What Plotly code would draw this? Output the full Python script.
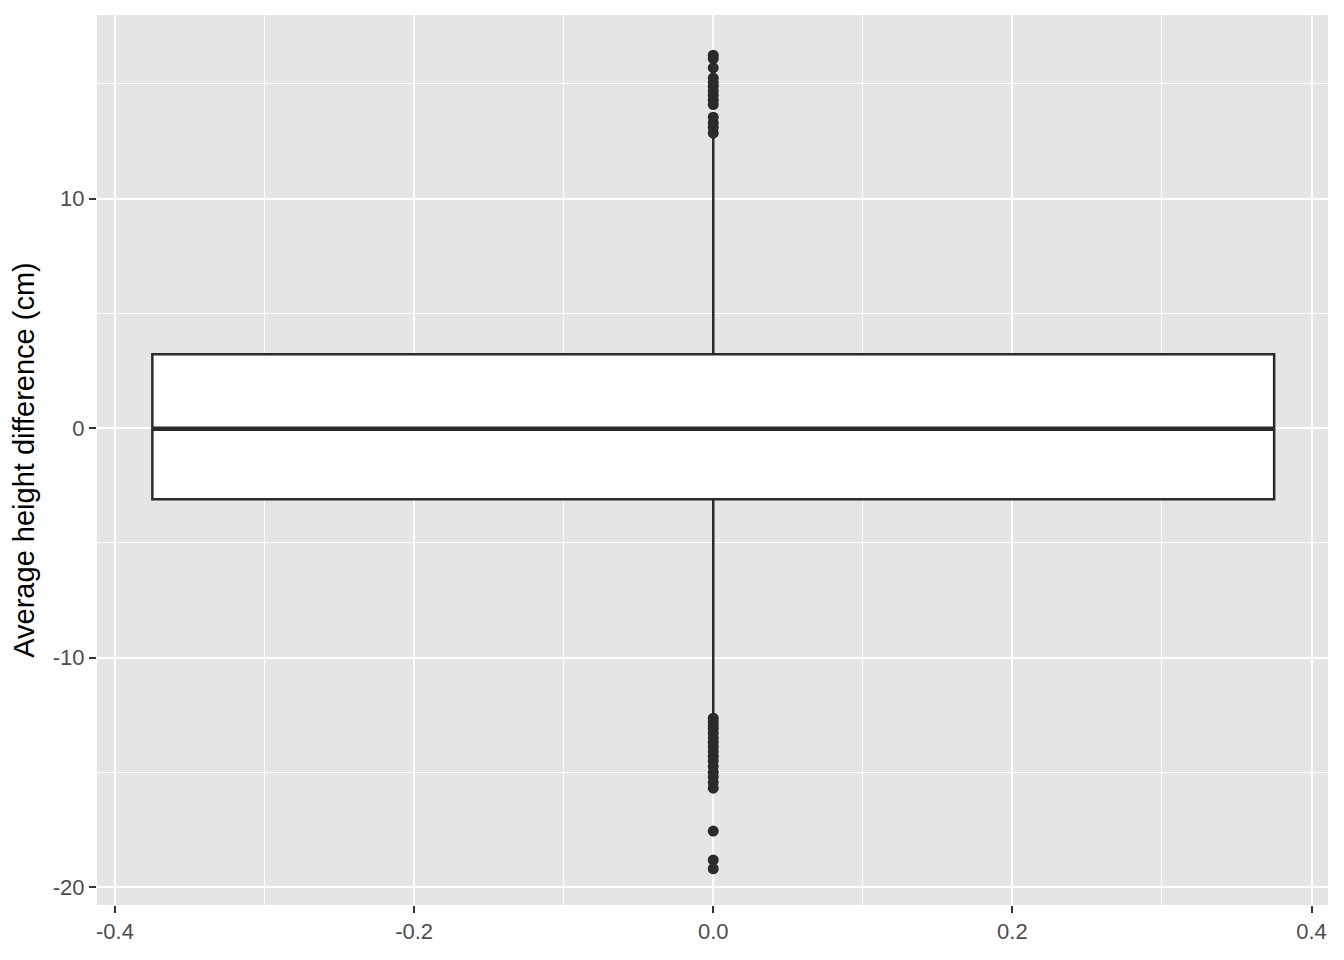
import plotly.graph_objects as go

# Summary statistics of the box (cm)
q1 = -3.1
median = -0.03
q3 = 3.22
lower_fence = -12.5
upper_fence = 12.7
box_width = 0.75

# Outliers (cm)
outliers_high = [16.25, 16.1, 15.7, 15.25, 15.05, 14.9, 14.7, 14.5, 14.3, 14.1,
                 13.55, 13.3, 13.1, 12.85]
outliers_low = [-12.64, -12.8, -12.95, -13.1, -13.3, -13.5, -13.7, -13.9, -14.1,
                -14.3, -14.5, -14.75, -15.0, -15.2, -15.45, -15.69,
                -17.56, -18.82, -19.2]

x_ticks = [-0.4, -0.2, 0.0, 0.2, 0.4]
x_tick_labels = ["-0.4", "-0.2", "0.0", "0.2", "0.4"]
y_ticks = [-20, -10, 0, 10]
y_tick_labels = ["-20", "-10", "0", "10"]

dark = "#2b2b2b"

fig = go.Figure()
fig.add_trace(go.Box(
    x=[0], q1=[q1], median=[median], q3=[q3],
    lowerfence=[lower_fence], upperfence=[upper_fence],
    width=box_width, fillcolor="white",
    line=dict(color=dark, width=2.5), whiskerwidth=0,
    boxpoints=False, showlegend=False, hoverinfo="skip",
))
# thicker median line, as in ggplot
fig.add_trace(go.Scatter(
    x=[-box_width / 2, box_width / 2], y=[median, median], mode="lines",
    line=dict(color=dark, width=4.5), showlegend=False, hoverinfo="skip",
))
outs = outliers_high + outliers_low
fig.add_trace(go.Scatter(
    x=[0] * len(outs), y=outs, mode="markers",
    marker=dict(color=dark, size=11), showlegend=False,
))

axis_common = dict(
    showgrid=True, gridcolor="white", gridwidth=2,
    zeroline=False, showline=False,
    ticks="outside", ticklen=7, tickwidth=2, tickcolor="#333333",
    tickfont=dict(family="Liberation Sans, Arial", size=22, color="#4D4D4D"),
)

fig.update_layout(
    width=1328, height=944,
    margin=dict(l=89, r=8, t=7, b=47),
    plot_bgcolor="#E5E5E5", paper_bgcolor="white",
    font=dict(family="Liberation Sans, Arial"),
    xaxis=dict(range=[-0.412, 0.411], tickvals=x_ticks, ticktext=x_tick_labels,
               minor=dict(dtick=0.1, tick0=0, showgrid=True, gridcolor="white", gridwidth=1),
               **axis_common),
    yaxis=dict(range=[-20.78, 18.0], tickvals=y_ticks, ticktext=y_tick_labels,
               minor=dict(dtick=5, tick0=0, showgrid=True, gridcolor="white", gridwidth=1),
               title=dict(text="Average height difference (cm)",
                          font=dict(size=29, color="black"), standoff=10),
               **axis_common),
)

fig.write_html("out.html")
